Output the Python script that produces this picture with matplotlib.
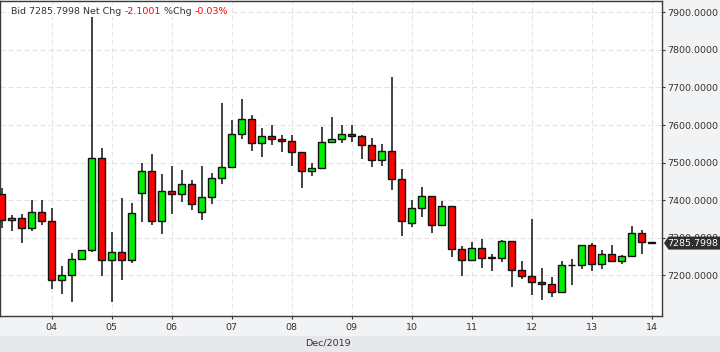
import matplotlib
matplotlib.use("Agg")
import matplotlib.pyplot as plt
import matplotlib.transforms as mtransforms
from matplotlib.patches import Polygon, Rectangle

# 4-hour candles, Dec 3 04:00 -> Dec 14 00:00 (BTC bid)
opens = [7415.6, 7346.4, 7353.5, 7327.0, 7367.7, 7343.7, 7186.7, 7200.0, 7242.6, 7266.5,
         7511.4, 7240.0, 7261.0, 7240.0, 7418.0, 7478.6, 7344.0, 7423.6, 7416.0, 7442.0,
         7367.7, 7407.6, 7458.0, 7487.0, 7575.0, 7616.0, 7551.0, 7570.0, 7562.0, 7557.6,
         7527.0, 7477.0, 7485.0, 7554.0, 7562.0, 7575.0, 7570.0, 7546.0, 7506.0, 7530.0,
         7455.5, 7339.0, 7378.0, 7410.0, 7333.0, 7383.7, 7270.0, 7240.0, 7272.0, 7246.5,
         7247.0, 7291.0, 7213.0, 7197.0, 7181.0, 7176.0, 7155.0, 7227.5, 7228.0, 7280.0,
         7229.0, 7256.0, 7237.0, 7250.6, 7312.0, 7287.9]
highs = [7431.6, 7360.6, 7362.0, 7400.5, 7400.5, 7379.0, 7224.8, 7258.6, 7268.0, 7890.3,
         7539.0, 7315.0, 7405.0, 7391.7, 7499.0, 7523.0, 7469.7, 7491.0, 7480.0, 7453.8,
         7491.0, 7472.0, 7658.0, 7613.5, 7669.0, 7627.0, 7592.0, 7600.0, 7573.5, 7573.5,
         7527.0, 7499.0, 7595.0, 7621.0, 7600.0, 7600.0, 7573.5, 7565.6, 7549.6, 7728.0,
         7483.0, 7400.5, 7434.0, 7410.0, 7398.0, 7383.7, 7277.0, 7289.0, 7297.6, 7257.0,
         7294.0, 7291.0, 7238.0, 7350.0, 7220.0, 7195.6, 7238.0, 7243.5, 7280.0, 7286.0,
         7267.4, 7280.0, 7254.0, 7331.0, 7320.7, 7287.9]
lows = [7326.9, 7318.9, 7287.0, 7319.0, 7334.9, 7164.5, 7151.0, 7130.0, 7240.0, 7263.0,
        7198.0, 7130.0, 7187.6, 7233.7, 7342.9, 7335.0, 7311.0, 7362.0, 7396.0, 7374.0,
        7347.0, 7389.0, 7442.0, 7487.0, 7564.0, 7532.0, 7516.0, 7548.0, 7529.0, 7492.0,
        7433.0, 7465.0, 7485.0, 7554.0, 7553.0, 7556.0, 7510.6, 7489.0, 7492.0, 7428.0,
        7305.6, 7329.5, 7356.0, 7313.6, 7333.0, 7249.7, 7198.0, 7240.0, 7220.0, 7212.4,
        7236.0, 7168.0, 7191.0, 7148.5, 7133.5, 7143.0, 7155.0, 7175.0, 7218.0, 7212.0,
        7218.0, 7237.0, 7231.0, 7250.6, 7255.7, 7285.8]
closes = [7346.4, 7353.5, 7327.0, 7367.7, 7343.7, 7186.7, 7200.0, 7242.6, 7266.5, 7511.4,
          7240.0, 7261.0, 7240.0, 7365.0, 7478.6, 7344.0, 7423.6, 7416.0, 7442.0, 7389.0,
          7407.6, 7458.0, 7487.0, 7575.0, 7616.0, 7551.0, 7570.0, 7562.0, 7557.6, 7527.0,
          7477.0, 7485.0, 7554.0, 7562.0, 7575.0, 7570.0, 7546.0, 7506.0, 7530.0, 7455.5,
          7344.6, 7378.0, 7410.0, 7333.0, 7383.7, 7270.0, 7240.0, 7272.0, 7245.0, 7247.5,
          7291.0, 7213.0, 7197.0, 7181.0, 7176.0, 7155.0, 7226.6, 7228.5, 7280.0, 7229.0,
          7256.0, 7237.0, 7250.6, 7312.0, 7288.0, 7285.7998]

day_labels = ["04", "05", "06", "07", "08", "09", "10", "11", "12", "13", "14"]
day_index = [5, 11, 17, 23, 29, 35, 41, 47, 53, 59, 65]
price_ticks = [7200, 7300, 7400, 7500, 7600, 7700, 7800, 7900]

bid = 7285.7998
net_chg = -2.1001
pct_chg = -0.03

UP = "#00ee00"
DOWN = "#ff0000"
TEXT = "#333333"
FS = 6.8

fig = plt.figure(figsize=(7.2, 3.52), dpi=100, facecolor="#f2f3f5")
fig.add_artist(Rectangle((0, 0), 1, 16 / 352, transform=fig.transFigure,
                         facecolor="#e7e8eb", edgecolor="none", zorder=-5))
ax = fig.add_axes([0.0, 36 / 352, 662 / 720, 315.5 / 352])
ax.set_facecolor("white")

x = list(range(len(opens)))
colors = [UP if c >= o else DOWN for o, c in zip(opens, closes)]
ax.vlines(x, lows, highs, color="#111111", linewidth=1.1, zorder=2)
bottoms = [min(o, c) for o, c in zip(opens, closes)]
heights = [max(abs(c - o), 0.6) for o, c in zip(opens, closes)]
ax.bar(x, heights, bottom=bottoms, width=0.74, color=colors,
       edgecolor="#111111", linewidth=1.0, zorder=3)

ax.set_xlim(-0.17, 66.03)
ax.set_ylim(7091.7, 7931.4)

ax.set_xticks(day_index)
ax.set_xticklabels(day_labels)
ax.set_yticks(price_ticks)
ax.set_yticklabels([f"{v:.4f}" for v in price_ticks])
ax.yaxis.tick_right()
ax.tick_params(axis="y", direction="out", length=2.5, width=0.8, pad=1,
               labelsize=FS, labelcolor=TEXT, color=TEXT)
ax.tick_params(axis="x", direction="out", length=2, width=0.8, pad=3,
               labelsize=FS, labelcolor=TEXT, color=TEXT)
for lbl in ax.get_yticklabels():
    lbl.set_horizontalalignment("left")

ax.grid(True, color="#e4e4e4", linewidth=0.8, linestyle=(0, (4.5, 2.7)), zorder=0)
ax.set_axisbelow(True)
for side in ["left", "right", "top", "bottom"]:
    ax.spines[side].set_color("#3a3a3a")
    ax.spines[side].set_linewidth(1.0)

fig.text(328 / 720, 1 - 343 / 352, "Dec/2019", ha="center", va="center",
         fontsize=FS, color=TEXT)

# header line with coloured changes
box = dict(facecolor="white", edgecolor="none", pad=0.5)
t = fig.text(11 / 720, 1 - 14.5 / 352, f"Bid {bid:.4f} Net Chg ", fontsize=FS,
             color=TEXT, va="baseline", bbox=box)
for s, col in [(f"{net_chg:.4f}", DOWN), (" %Chg ", TEXT), (f"{pct_chg:.2f}%", DOWN)]:
    t = ax.annotate(s, xy=(1, 0), xycoords=t, va="bottom", fontsize=FS,
                    color=col, bbox=box, annotation_clip=False)

# last price tag on the right axis
anchor = mtransforms.ScaledTranslation(1.0, closes[-1], ax.get_yaxis_transform())
tag_trans = fig.dpi_scale_trans + anchor
h = 0.065
tag = Polygon([(0.02, 0), (0.065, h), (0.60, h), (0.60, -h), (0.065, -h)],
              closed=True, transform=tag_trans, facecolor="#2e2e2e",
              edgecolor="none", clip_on=False, zorder=10)
fig.add_artist(tag)
fig.text(0.055, 0.0, f"{closes[-1]:.4f}", transform=tag_trans, fontsize=FS,
         color="white", va="center", ha="left", zorder=11)

fig.savefig("out.png", dpi=100, facecolor=fig.get_facecolor())
